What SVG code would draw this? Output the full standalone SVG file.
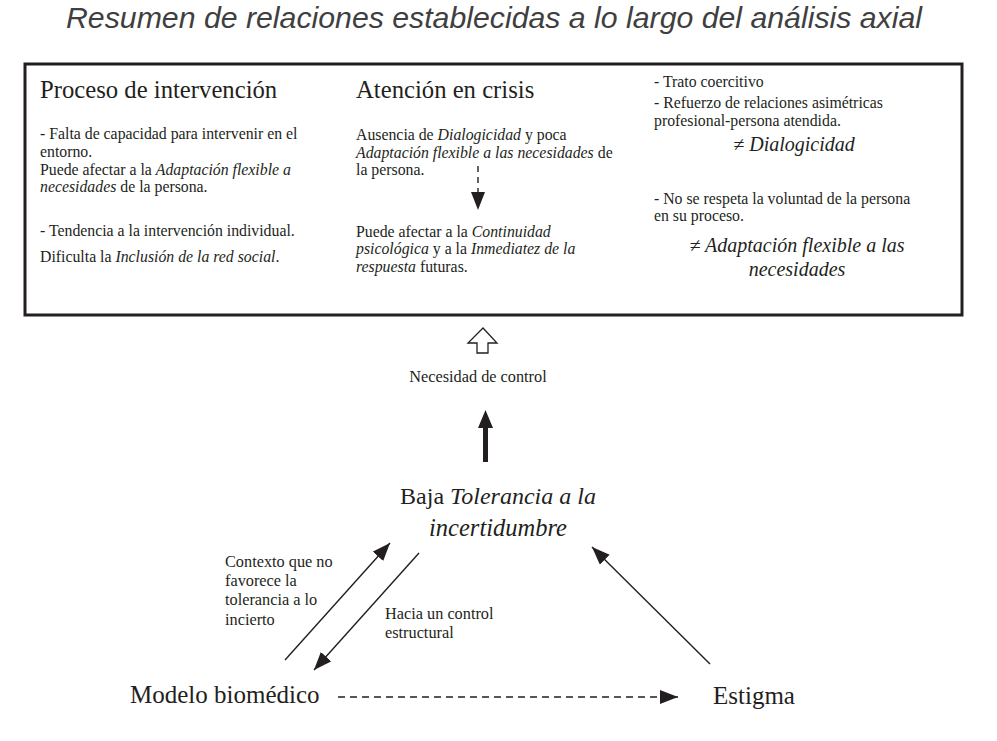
<svg xmlns="http://www.w3.org/2000/svg" width="997" height="741" viewBox="0 0 997 741">
<style>
.t{font-family:"Liberation Serif","Times New Roman",serif;fill:#231f20}
.b{font-size:15.8px}
.s{font-size:16.3px}
.h{font-size:24.7px}
.n{font-size:20px;font-style:italic}
.it{font-style:italic}
.ttl{font-family:"Liberation Sans",Arial,sans-serif;font-style:italic;font-size:30px;fill:#3f3f3f}
.ln{stroke:#231f20;stroke-width:1.4;fill:none}
</style>
<defs>
<marker id="ah" markerUnits="userSpaceOnUse" markerWidth="20" markerHeight="16" refX="18" refY="7" orient="auto">
<path d="M0,0 L18,7 L0,14 Z" fill="#231f20"/>
</marker>
</defs>
<rect width="997" height="741" fill="#fff"/>
<text class="ttl" x="494" y="28" text-anchor="middle" textLength="856" lengthAdjust="spacingAndGlyphs">Resumen de relaciones establecidas a lo largo del análisis axial</text>

<g id="box">
<rect x="25" y="64" width="937" height="251" fill="none" stroke="#231f20" stroke-width="3"/>
</g>

<g id="proceso">
<text class="t h" x="40" y="98">Proceso de intervención</text>
<text class="t b" x="40" y="139">- Falta de capacidad para intervenir en el</text>
<text class="t b" x="40" y="157">entorno.</text>
<text class="t b" x="40" y="175">Puede afectar a la <tspan class="it">Adaptación flexible a</tspan></text>
<text class="t b" x="40" y="192"><tspan class="it">necesidades</tspan> de la persona.</text>
<text class="t b" x="40" y="236">- Tendencia a la intervención individual.</text>
<text class="t b" x="40" y="262">Dificulta la <tspan class="it">Inclusión de la red social</tspan>.</text>
</g>

<g id="atencion">
<text class="t h" x="356" y="98">Atención en crisis</text>
<text class="t b" x="356" y="140">Ausencia de <tspan class="it">Dialogicidad</tspan> y poca</text>
<text class="t b" x="356" y="158"><tspan class="it">Adaptación flexible a las necesidades</tspan> de</text>
<text class="t b" x="356" y="175">la persona.</text>
<text class="t b" x="356" y="237">Puede afectar a la <tspan class="it">Continuidad</tspan></text>
<text class="t b" x="356" y="254"><tspan class="it">psicológica</tspan> y a la <tspan class="it">Inmediatez de la</tspan></text>
<text class="t b" x="356" y="272"><tspan class="it">respuesta</tspan> futuras.</text>
</g>

<g id="trato">
<text class="t b" x="654" y="87">- Trato coercitivo</text>
<text class="t b" x="654" y="108">- Refuerzo de relaciones asimétricas</text>
<text class="t b" x="654" y="126">profesional-persona atendida.</text>
<text class="t n" x="794" y="151" text-anchor="middle">≠ Dialogicidad</text>
<text class="t b" x="654" y="204">- No se respeta la voluntad de la persona</text>
<text class="t b" x="654" y="221">en su proceso.</text>
<text class="t n" x="797" y="252" text-anchor="middle">≠ Adaptación flexible a las</text>
<text class="t n" x="797" y="276" text-anchor="middle">necesidades</text>
</g>

<g id="necesidad">
<path d="M483,328 L497,343 L488,343 L488,353 L477,353 L477,343 L468,343 Z" fill="#fff" stroke="#231f20" stroke-width="1.3"/>
<text class="t s" x="478" y="382" text-anchor="middle">Necesidad de control</text>
</g>

<g id="tolerancia">
<text class="t" style="font-size:24px" x="498" y="504" text-anchor="middle">Baja <tspan class="it">Tolerancia a la</tspan></text>
<text class="t it" style="font-size:24.5px" x="498" y="536" text-anchor="middle">incertidumbre</text>
</g>

<g id="modelo">
<text class="t" style="font-size:25px" x="130" y="703">Modelo biomédico</text>
</g>

<g id="estigma">
<text class="t" style="font-size:25px" x="713" y="704">Estigma</text>
</g>

<g id="connectors">
<line class="ln" x1="478" y1="166" x2="478" y2="210" stroke-dasharray="6,5" marker-end="url(#ah)"/>
<path d="M483,462 L483,428 L478,428 L485.5,410 L493,428 L488,428 L488,462 Z" fill="#231f20"/>
<line class="ln" x1="285" y1="660" x2="390" y2="543" marker-end="url(#ah)"/>
<line class="ln" x1="419" y1="553" x2="314" y2="670" marker-end="url(#ah)"/>
<line class="ln" x1="710" y1="664" x2="592" y2="547" marker-end="url(#ah)"/>
<line class="ln" x1="338" y1="697" x2="678" y2="697" stroke-dasharray="7,5" marker-end="url(#ah)"/>
<text class="t s" x="225" y="567">Contexto que no</text>
<text class="t s" x="225" y="586">favorece la</text>
<text class="t s" x="225" y="605">tolerancia a lo</text>
<text class="t s" x="225" y="625">incierto</text>
<text class="t s" x="385" y="619">Hacia un control</text>
<text class="t s" x="385" y="638">estructural</text>
</g>
</svg>
